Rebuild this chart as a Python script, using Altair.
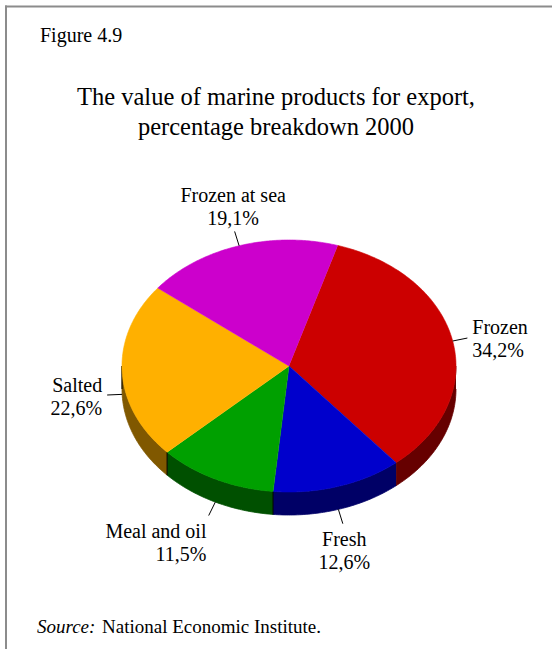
import altair as alt
import pandas as pd

# ---- data ----
categories = ["Frozen", "Fresh", "Meal and oil", "Salted", "Frozen at sea"]
values = [34.2, 12.6, 11.5, 22.6, 19.1]
value_labels = ["34,2%", "12,6%", "11,5%", "22,6%", "19,1%"]
top_colors = ["#CC0000", "#0000CC", "#00A000", "#FFB000", "#CC00CC"]
side_colors = ["#660000", "#000066", "#005000", "#805800", "#660066"]

figure_label = "Figure 4.9"
title_lines = ["The value of marine products for export,", "percentage breakdown 2000"]
source_italic = "Source:"
source_text = "National Economic Institute."

# ---- layout constants ----
W, H = 552, 649
CX, CY, RX, RY, DEPTH = 289, 366, 167, 126, 23
START = "17*PI/180"
N = 60      # points per side arc
NT = 120    # points per top arc
FONT = "Liberation Serif"

df = pd.DataFrame({
    "category": categories,
    "value": values,
    "vlabel": value_labels,
    "idx": list(range(len(categories))),
})


def X(f):
    return alt.X(f"{f}:Q", scale=alt.Scale(domain=[0, W], range=[0, W], nice=False, zero=False), axis=None)


def Y(f):
    return alt.Y(f"{f}:Q", scale=alt.Scale(domain=[0, H], range=[0, H], nice=False, zero=False), axis=None)


base = alt.Chart(df).transform_joinaggregate(
    total="sum(value)"
).transform_window(
    cum="sum(value)", sort=[alt.SortField("idx", order="ascending")], frame=[None, 0]
).transform_calculate(
    a0=f"{START} + 2*PI*(datum.cum - datum.value)/datum.total",
    a1=f"{START} + 2*PI*datum.cum/datum.total",
).transform_calculate(
    am="(datum.a0 + datum.a1)/2"
)

side_scale = alt.Scale(domain=categories, range=side_colors)
top_scale = alt.Scale(domain=categories, range=top_colors)

# side walls (front half only)
side = base.transform_calculate(
    s0="max(datum.a0, PI/2)", s1="min(datum.a1, 3*PI/2)", side_cat="datum.category"
).transform_filter("datum.s1 > datum.s0").transform_calculate(
    seq=f"sequence(0, {2 * N + 2})"
).transform_flatten(["seq"]).transform_calculate(
    ang=f"datum.seq <= {N} ? datum.s0 + (datum.s1 - datum.s0)*datum.seq/{N} : datum.s1 - (datum.s1 - datum.s0)*(datum.seq - {N + 1})/{N}",
).transform_calculate(
    px=f"{CX} + {RX}*sin(datum.ang)",
    py=f"{CY} - {RY}*cos(datum.ang) + (datum.seq <= {N} ? 0 : {DEPTH})",
).mark_line(strokeWidth=0.8).encode(
    x=X("px"), y=Y("py"), order="seq:Q",
    fill=alt.Fill("side_cat:N", scale=side_scale, legend=None),
    stroke=alt.Stroke("side_cat:N", scale=side_scale, legend=None),
    detail="side_cat:N",
)

# vertical edges on the left-front side
edges = base.transform_calculate(
    s1="min(datum.a1, 3*PI/2)"
).transform_filter(
    "datum.a0 < 3*PI/2 && datum.s1 > PI/2 && sin(datum.s1) < 0"
).transform_calculate(
    ex=f"{CX} + {RX}*sin(datum.s1)",
    ey=f"{CY} - {RY}*cos(datum.s1)",
    ey2=f"{CY} - {RY}*cos(datum.s1) + {DEPTH}",
).mark_rule(color="black", strokeWidth=1).encode(x=X("ex"), y=Y("ey"), y2="ey2:Q")

# top faces
top = base.transform_calculate(
    seq=f"sequence(-1, {NT + 1})"
).transform_flatten(["seq"]).transform_calculate(
    ang=f"datum.a0 + (datum.a1 - datum.a0)*max(datum.seq, 0)/{NT}",
).transform_calculate(
    px=f"datum.seq < 0 ? {CX} : {CX} + {RX}*sin(datum.ang)",
    py=f"datum.seq < 0 ? {CY} : {CY} - {RY}*cos(datum.ang)",
).mark_line(strokeWidth=0.6).encode(
    x=X("px"), y=Y("py"), order="seq:Q",
    fill=alt.Fill("category:N", scale=top_scale, legend=None),
    stroke=alt.Stroke("category:N", scale=top_scale, legend=None),
    detail="category:N",
)

# leader lines
leaders = base.transform_calculate(
    front=f"cos(datum.am) < 0 ? {DEPTH} : 0"
).transform_calculate(
    lx1=f"{CX} + {RX}*sin(datum.am)",
    ly1=f"{CY} - {RY}*cos(datum.am) + datum.front",
    lx2=f"{CX} + ({RX}+15)*sin(datum.am)",
    ly2=f"{CY} - ({RY}+15)*cos(datum.am) + datum.front",
).mark_rule(color="black", strokeWidth=1).encode(
    x=X("lx1"), y=Y("ly1"), x2="lx2:Q", y2="ly2:Q"
)

# slice labels (y = baseline of the first line)
labels = base.transform_calculate(
    front=f"cos(datum.am) < 0 ? {DEPTH} : 0",
    sx="sin(datum.am)",
    cyv="cos(datum.am)",
    txt="datum.category + '\\n' + datum.vlabel",
).transform_calculate(
    tx=f"{CX} + ({RX}+20)*datum.sx",
    ty=f"{CY} - ({RY}+20)*datum.cyv + datum.front + (datum.cyv > 0.5 ? -25 : (datum.cyv < -0.5 ? 18 : -3))",
).mark_text(
    font=FONT, fontSize=20, lineBreak="\n", lineHeight=23, color="black",
    baseline="alphabetic",
    align={"expr": "datum.sx > 0.35 ? 'left' : (datum.sx < -0.35 ? 'right' : 'center')"},
).encode(x=X("tx"), y=Y("ty"), text="txt:N")

one = pd.DataFrame({"k": [0]})

frame_top = alt.Chart(one).mark_rule(color="#8c8c8c", strokeWidth=2).encode(
    x=alt.value(5), x2=alt.value(W), y=alt.value(6.5)
)
frame_left = alt.Chart(one).mark_rule(color="#8c8c8c", strokeWidth=2).encode(
    x=alt.value(6), y=alt.value(5.5), y2=alt.value(H)
)

fig_text = alt.Chart(one).mark_text(font=FONT, fontSize=20, align="left", baseline="alphabetic").encode(
    x=alt.value(40), y=alt.value(42), text=alt.value(figure_label)
)
title_text = alt.Chart(one).mark_text(
    font=FONT, fontSize=24.5, align="center", baseline="alphabetic", lineHeight=30
).encode(
    x=alt.value(276), y=alt.value(105), text=alt.value(title_lines)
)
src1 = alt.Chart(one).mark_text(font=FONT, fontSize=19, fontStyle="italic", align="left", baseline="alphabetic").encode(
    x=alt.value(37), y=alt.value(633), text=alt.value(source_italic)
)
src2 = alt.Chart(one).mark_text(font=FONT, fontSize=19, align="left", baseline="alphabetic").encode(
    x=alt.value(102), y=alt.value(633), text=alt.value(source_text)
)

chart = alt.layer(
    side, edges, top, leaders, labels,
    frame_top, frame_left, fig_text, title_text, src1, src2,
).resolve_scale(
    fill="independent", stroke="independent"
).properties(
    width=W, height=H, padding=0,
    autosize=alt.AutoSizeParams(type="none"),
    background="white",
).configure_view(stroke=None)

chart.save("out.html", embed_options={"renderer": "svg", "actions": False})
